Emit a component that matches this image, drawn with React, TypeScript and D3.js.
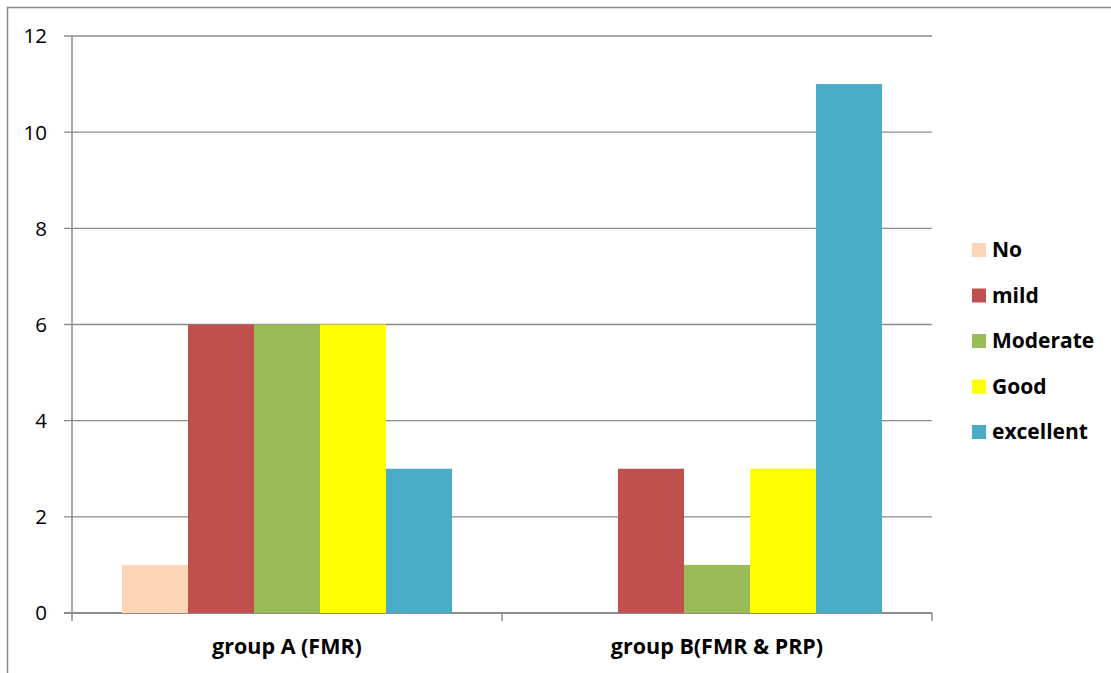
import React from "react";
import * as d3 from "d3";

const groups = ["group A (FMR)", "group B(FMR & PRP)"];
const seriesNames = ["No", "mild", "Moderate", "Good", "excellent"];
const seriesColors = ["#FBD5B5", "#C0504D", "#9BBB59", "#FFFF00", "#4BACC6"];
const groupAValues = [1, 6, 6, 6, 3];
const groupBValues = [0, 3, 1, 3, 11];
const yTicks = [0, 2, 4, 6, 8, 10, 12];

const W = 1111;
const H = 673;
const plot = { left: 72, right: 932, top: 36, bottom: 613 };
const font = "'Open Sans', 'Liberation Sans', sans-serif";

export default function App() {
  const values = [groupAValues, groupBValues];
  const x0 = d3
    .scaleBand<string>()
    .domain(groups)
    .range([plot.left, plot.right])
    .paddingInner(0)
    .paddingOuter(0);
  const x1 = d3
    .scaleBand<string>()
    .domain(seriesNames)
    .range([0, x0.bandwidth()])
    .paddingOuter(50 / 66)
    .paddingInner(0);
  const y = d3.scaleLinear().domain([0, 12]).range([plot.bottom, plot.top]);

  const boundaries = [plot.left, ...groups.map((g) => (x0(g) as number) + x0.bandwidth())];

  return (
    <svg
      width={W}
      height={H}
      style={{ position: "absolute", left: 0, top: 0, background: "#fff" }}
    >
      <rect x={7.5} y={7.5} width={W + 10} height={H + 10} fill="#fff" stroke="#888" strokeWidth={1.5} />
      {yTicks.map((t) => (
        <g key={t}>
          <line
            x1={plot.left - 8}
            x2={plot.right}
            y1={y(t)}
            y2={y(t)}
            stroke="#8c8c8c"
            strokeWidth={t === 0 ? 2 : 1.3}
          />
          <text
            x={47}
            y={y(t)}
            dy="0.36em"
            textAnchor="end"
            fontFamily={font}
            fontSize={20.5}
            fill="#000"
          >
            {t}
          </text>
        </g>
      ))}
      <line x1={plot.left} x2={plot.left} y1={plot.top} y2={plot.bottom} stroke="#8c8c8c" strokeWidth={1.5} />
      {boundaries.map((bx, i) => (
        <line key={i} x1={bx} x2={bx} y1={plot.bottom} y2={plot.bottom + 8} stroke="#8c8c8c" strokeWidth={1.5} />
      ))}
      {groups.map((g, gi) =>
        seriesNames.map((s, si) => {
          const v = values[gi][si];
          const bx = (x0(g) as number) + (x1(s) as number);
          return (
            <rect
              key={g + s}
              x={bx}
              y={y(v)}
              width={x1.bandwidth()}
              height={plot.bottom - y(v)}
              fill={seriesColors[si]}
            />
          );
        })
      )}
      {groups.map((g) => (
        <text
          key={g}
          x={(x0(g) as number) + x0.bandwidth() / 2}
          y={646}
          dy="0.35em"
          textAnchor="middle"
          fontFamily={font}
          fontSize={21.5}
          fontWeight="bold"
          fill="#000"
        >
          {g}
        </text>
      ))}
      {seriesNames.map((s, i) => {
        const cy = 250 + i * 45.5;
        return (
          <g key={s}>
            <rect x={972} y={cy - 7} width={14} height={14} fill={seriesColors[i]} />
            <text x={992} y={cy} dy="0.35em" fontFamily={font} fontSize={21} fontWeight="bold" fill="#000">
              {s}
            </text>
          </g>
        );
      })}
    </svg>
  );
}
